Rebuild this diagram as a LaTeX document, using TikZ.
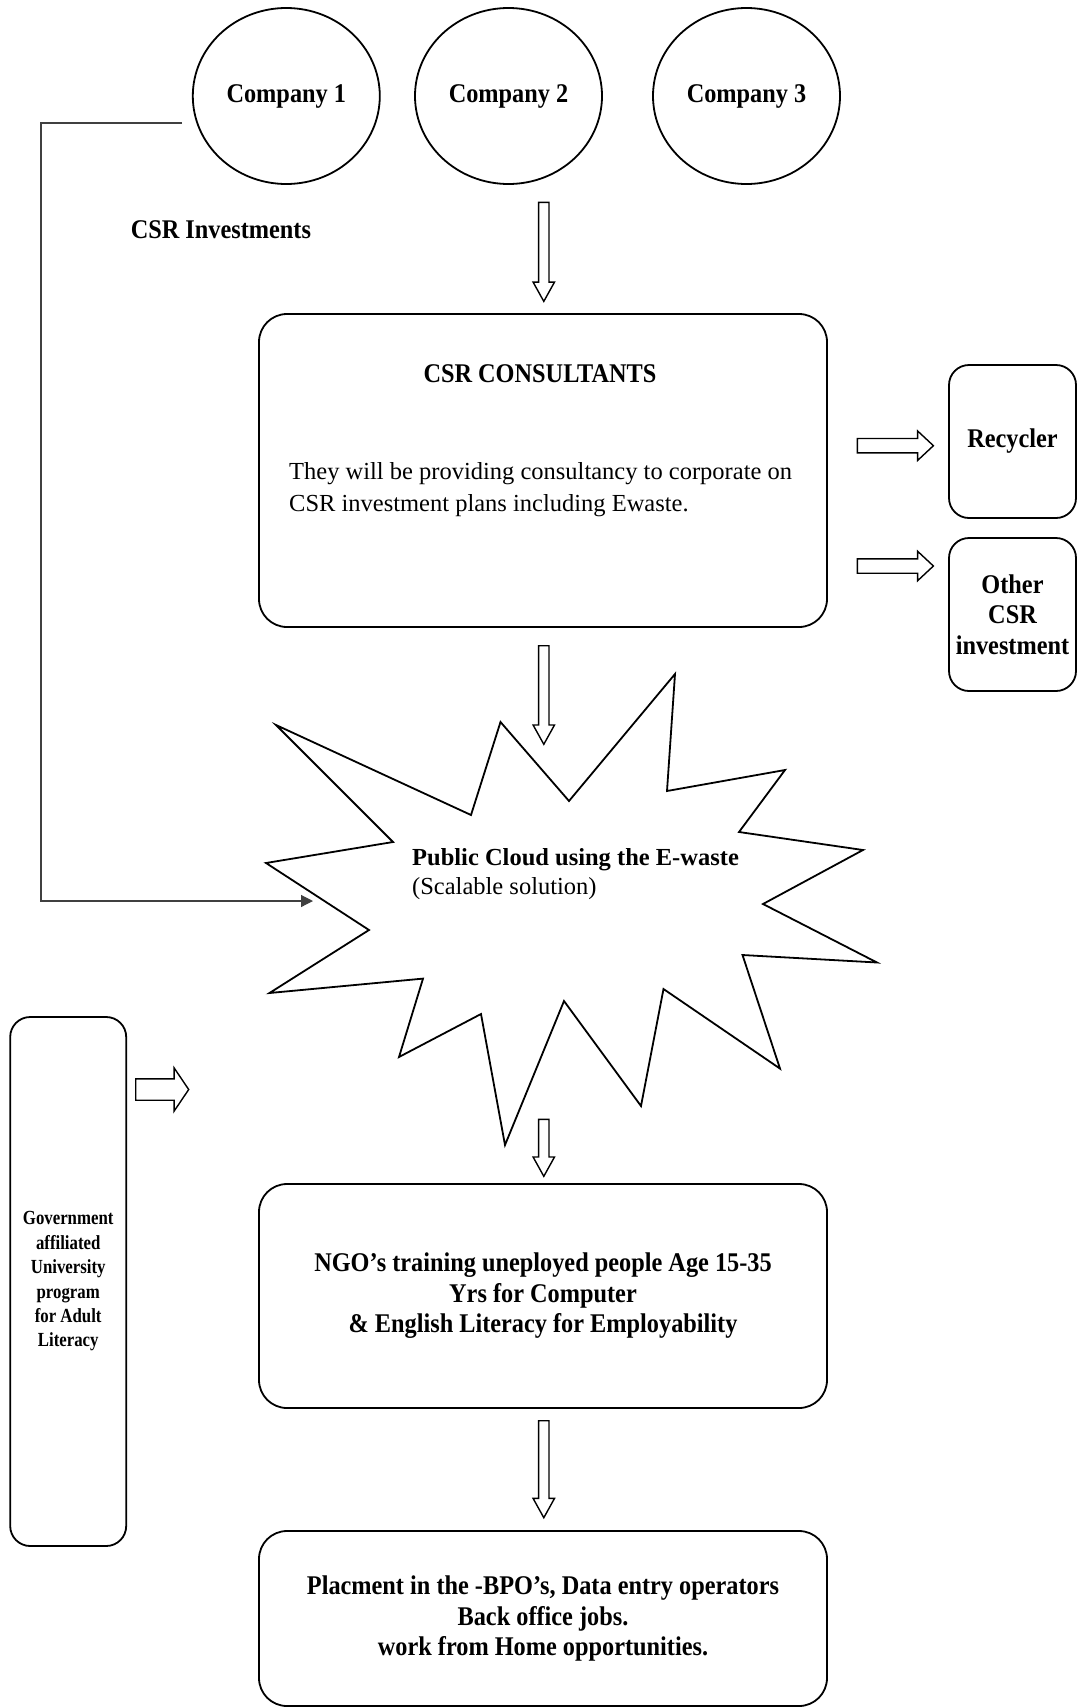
\documentclass[tikz,border=0pt]{standalone}
\usepackage{fontspec}
\setmainfont{Liberation Serif}
\newfontfamily\narrowserif{Liberation Serif}[FakeStretch=0.9]
\newfontfamily\govserif{Liberation Serif}[FakeStretch=0.84]
\usetikzlibrary{shapes.geometric,shapes.arrows,arrows.meta}

\begin{document}
\begin{tikzpicture}[x=1pt,y=-1pt,
    headtext/.style={inner sep=0pt, align=center, font=\narrowserif\bfseries\fontsize{27}{30.5}\selectfont},
    company/.style={ellipse, draw, line width=1.8pt, minimum width=187pt, minimum height=176pt, headtext},
    bigbox/.style={draw, rounded corners=28pt, line width=1.8pt, minimum width=568pt, headtext},
    smallbox/.style={draw, rounded corners=20pt, line width=1.8pt, minimum width=127pt, minimum height=153pt, headtext},
    govbox/.style={draw, rounded corners=20pt, line width=1.8pt, minimum width=116pt, minimum height=529pt, inner sep=0pt, align=center, font=\govserif\bfseries\fontsize{20}{24.4}\selectfont},
    downarrow/.style={single arrow, draw, line width=1.4pt, rotate=-90, anchor=tail, inner sep=4.5pt, single arrow head extend=5.5pt, single arrow tip angle=58},
    rightarrow/.style={single arrow, draw, line width=1.4pt, anchor=tail, minimum height=76pt, inner sep=6.5pt, single arrow head extend=7.5pt, single arrow tip angle=86},
    link/.style={draw=black!75, line width=1.2pt, -{Triangle[length=12pt,width=12pt]}}]
    \useasboundingbox (0,0) rectangle (1078,1708);

    \node[company] (c1) at (286.3,96) {Company 1};
    \node[company] (c2) at (508.5,96) {Company 2};
    \node[company] (c3) at (746.5,96) {Company 3};
    \node[headtext, anchor=west] (csrinv) at (130.6,229.8) {CSR Investments};

    \node[downarrow, minimum height=99pt] (a1) at (543.8,201.7) {};
    \node[bigbox, minimum height=313pt] (consult) at (543,470.5) {};
    \node[headtext] (consulttitle) at (540,374) {CSR CONSULTANTS};
    \node[inner sep=0pt, anchor=west, align=left, font=\fontsize{24.5}{32}\selectfont] (consultbody) at (289,490)
        {They will be providing consultancy to corporate on\\CSR investment plans including Ewaste.};

    \node[smallbox] (recycler) at (1012.5,441.5) {Recycler};
    \node[smallbox] (othercsr) at (1012.5,614.5) {Other\\CSR\\investment};
    \node[rightarrow] (r1) at (856.7,445.7) {};
    \node[rightarrow] (r2) at (856.7,566) {};

    \node[downarrow, minimum height=98.6pt] (a2) at (543.8,645) {};
    \draw[line width=1.8pt, fill=white] (276,725) -- (471,815) -- (500.5,722) -- (569,801) -- (675,674) -- (667,791)
        -- (785,770) -- (739,832) -- (863,850) -- (763,904) -- (877,962.5) -- (742.5,955) -- (780,1068.6)
        -- (663.5,989) -- (641,1106) -- (564,1001) -- (505,1145) -- (481,1014) -- (399,1057) -- (423,978.6)
        -- (269.5,993) -- (369,930) -- (266,863) -- (393,842) -- cycle;
    \node[inner sep=0pt, anchor=west, align=left, font=\fontsize{24.5}{29}\selectfont] (cloud) at (412,874)
        {\textbf{Public Cloud using the E-waste}\\(Scalable solution)};

    \coordinate (invest) at (182,123);
    \coordinate (cloudin) at (313,901);
    \draw[link] (invest) -- ++(-141,0) |- (cloudin);

    \node[govbox] (govt) at (68.2,1281.5) {Government\\affiliated\\University\\program\\for Adult\\Literacy};
    \node[single arrow, draw, line width=1.4pt, anchor=tail, minimum height=53pt, inner sep=10pt,
        single arrow head extend=11pt, single arrow tip angle=112] (g1) at (135,1089.5) {};

    \node[downarrow, minimum height=57pt] (a3) at (543.8,1118.6) {};
    \node[bigbox, minimum height=224pt] (ngo) at (543,1296)
        {NGO’s training uneployed people Age 15-35\\Yrs for Computer\\\& English Literacy for Employability};
    \node[downarrow, minimum height=97pt] (a4) at (543.8,1420) {};
    \node[bigbox, minimum height=175pt] (placement) at (543,1618.5)
        {Placment in the -BPO’s, Data entry operators\\Back office jobs.\\work from Home opportunities.};
\end{tikzpicture}
\end{document}
